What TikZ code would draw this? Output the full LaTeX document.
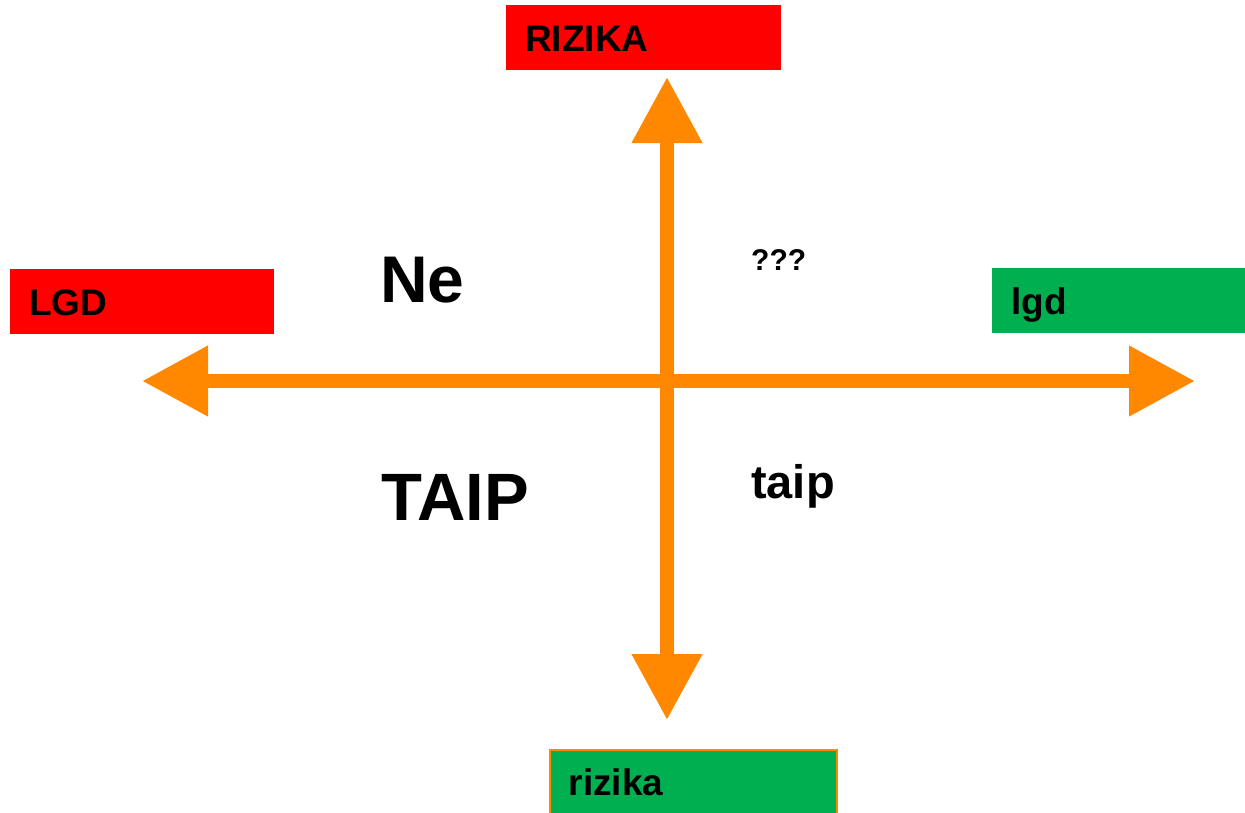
\documentclass[tikz,border=0pt]{standalone}
\usepackage{fontspec}
\setmainfont{Liberation Sans}
\usetikzlibrary{arrows.meta}
\definecolor{boxred}{HTML}{FF0000}
\definecolor{boxgreen}{HTML}{00B050}
\definecolor{axisorange}{HTML}{FF8800}
\tikzset{
  labelbox/.style={draw=none, rectangle, anchor=north west, inner xsep=19pt, inner ysep=0pt,
    minimum height=65pt, text height=27pt, text depth=0pt, align=left,
    font=\fontsize{37}{40}\selectfont\bfseries},
  axis/.style={draw=axisorange, line width=14pt, {Triangle[length=66pt,width=67pt]}-{Triangle[length=66pt,width=67pt]}},
  quadtext/.style={anchor=base west, inner sep=0pt, text=black}
}
\begin{document}
\begin{tikzpicture}[x=1pt,y=-1pt]
\useasboundingbox (0,0) rectangle (1245,812);
\clip (0,0) rectangle (1245,812);
% labels in boxes
\node[labelbox, fill=boxred, text width=237pt] (top) at (506,5) {RIZIKA};
\node[labelbox, fill=boxred, text width=226pt, inner xsep=19pt] (left) at (10,269) {LGD};
\node[labelbox, fill=boxgreen, text width=237pt] (right) at (992,268) {lgd};
\node[labelbox, fill=boxgreen, draw=axisorange, line width=1.5pt, text width=249pt] (bottom) at (549,749) {rizika};
% axes
\coordinate (L) at (142,381);
\coordinate (R) at (1195,381);
\coordinate (T) at (667,77);
\coordinate (B) at (667,720);
\draw[axis] (L) -- (R);
\draw[axis] (T) -- (B);
% quadrant texts
\node[quadtext, font=\fontsize{66}{70}\selectfont\bfseries] (ne) at (380,302) {Ne};
\node[quadtext, font=\fontsize{67}{70}\selectfont\bfseries] (taipbig) at (381,520) {TAIP};
\node[quadtext, font=\fontsize{30}{34}\selectfont\bfseries] (qqq) at (751,270) {???};
\node[quadtext, font=\fontsize{47}{50}\selectfont\bfseries] (taipsmall) at (751,498) {taip};
\end{tikzpicture}
\end{document}
